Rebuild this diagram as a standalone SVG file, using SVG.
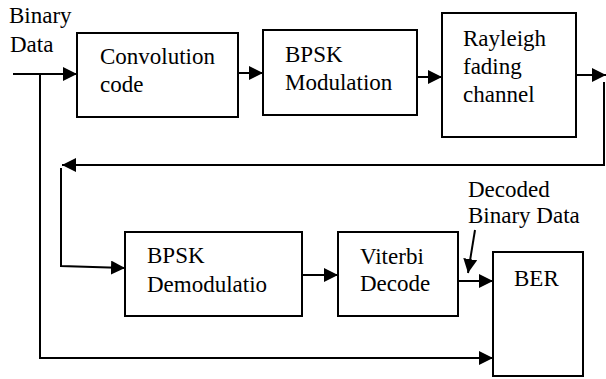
<svg xmlns="http://www.w3.org/2000/svg" width="606" height="379" viewBox="0 0 606 379">
<defs>
<marker id="ah" markerUnits="userSpaceOnUse" markerWidth="15" markerHeight="14" refX="14" refY="7" orient="auto">
<path d="M0,0 L14,7 L0,14 z" fill="#000"/>
</marker>
</defs>
<rect width="606" height="379" fill="#fff"/>
<g id="connectors" fill="none" stroke="#000" stroke-width="2">
<line x1="13" y1="74" x2="77" y2="74" marker-end="url(#ah)"/>
<polyline points="40,74 40,358 493,358" marker-end="url(#ah)"/>
<line x1="238" y1="73" x2="263" y2="73" marker-end="url(#ah)"/>
<line x1="417" y1="77" x2="442" y2="77" marker-end="url(#ah)"/>
<line x1="576" y1="75" x2="606" y2="75" marker-end="url(#ah)"/>
<polyline points="604,82 604,165 62,165" marker-end="url(#ah)"/>
<polyline points="61,168 61,266 125,268" marker-end="url(#ah)"/>
<line x1="302" y1="275" x2="338" y2="275" marker-end="url(#ah)"/>
<line x1="458" y1="281" x2="493" y2="281" marker-end="url(#ah)"/>
<line x1="475" y1="230" x2="468" y2="273" marker-end="url(#ah)"/>
</g>
<g id="input-label">
<text x="9" y="23" font-size="23" font-family="Liberation Serif">Binary</text>
<text x="10" y="52" font-size="23" font-family="Liberation Serif">Data</text>
</g>
<g id="conv">
<rect x="77" y="33" width="161" height="84" fill="#fff" stroke="#000" stroke-width="2"/>
<text x="100" y="64" font-size="23" font-family="Liberation Serif">Convolution</text>
<text x="100" y="92" font-size="23" font-family="Liberation Serif">code</text>
</g>
<g id="bpskmod">
<rect x="263" y="30" width="154" height="85" fill="#fff" stroke="#000" stroke-width="2"/>
<text x="285" y="62" font-size="23" font-family="Liberation Serif">BPSK</text>
<text x="285" y="90" font-size="23" font-family="Liberation Serif">Modulation</text>
</g>
<g id="rayleigh">
<rect x="442" y="13" width="134" height="124" fill="#fff" stroke="#000" stroke-width="2"/>
<text x="463" y="46" font-size="23" font-family="Liberation Serif">Rayleigh</text>
<text x="463" y="74" font-size="23" font-family="Liberation Serif">fading</text>
<text x="463" y="102" font-size="23" font-family="Liberation Serif">channel</text>
</g>
<g id="bpskdemod">
<rect x="125" y="232" width="177" height="84" fill="#fff" stroke="#000" stroke-width="2"/>
<text x="147" y="263" font-size="23" font-family="Liberation Serif">BPSK</text>
<text x="147" y="292" font-size="23" font-family="Liberation Serif">Demodulatio</text>
</g>
<g id="viterbi">
<rect x="338" y="232" width="120" height="84" fill="#fff" stroke="#000" stroke-width="2"/>
<text x="360" y="264" font-size="23" font-family="Liberation Serif">Viterbi</text>
<text x="360" y="291" font-size="23" font-family="Liberation Serif">Decode</text>
</g>
<g id="decoded-label">
<text x="468" y="197" font-size="23" font-family="Liberation Serif">Decoded</text>
<text x="468" y="223" font-size="23" font-family="Liberation Serif">Binary Data</text>
</g>
<g id="ber">
<rect x="493" y="252" width="90" height="124" fill="#fff" stroke="#000" stroke-width="2"/>
<text x="514" y="286" font-size="23" font-family="Liberation Serif">BER</text>
</g>
</svg>
